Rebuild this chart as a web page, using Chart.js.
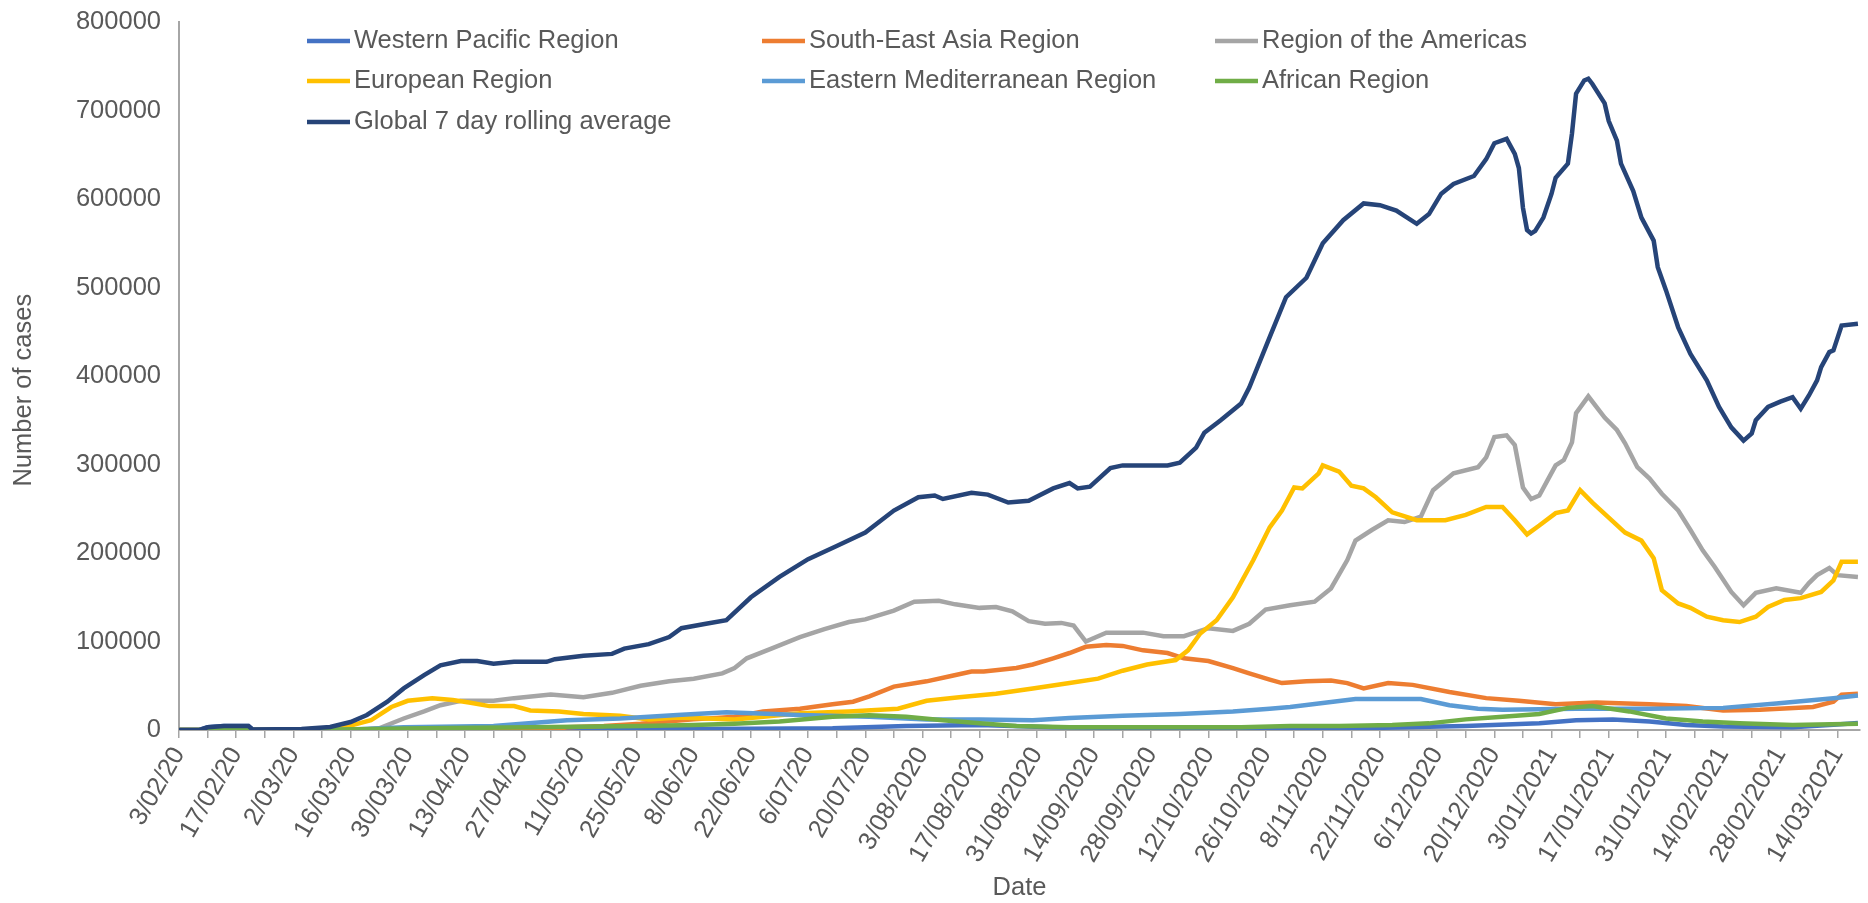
<!DOCTYPE html>
<html>
<head>
<meta charset="utf-8">
<script src="https://cdn.jsdelivr.net/npm/chart.js@4.4.1/dist/chart.umd.min.js"></script>
<style>
  html, body { margin: 0; padding: 0; background: #fff; }
  canvas { display: block; }
</style>
</head>
<body>
<canvas id="casesChart" width="1868" height="903"></canvas>
<script>
// Dias contados a partir de 3/02/2020, valores = casos diarios (media de 7 dias)
const tickLabels = ["3/02/20", "17/02/20", "2/03/20", "16/03/20", "30/03/20", "13/04/20", "27/04/20",
  "11/05/20", "25/05/20", "8/06/20", "22/06/20", "6/07/20", "20/07/20", "3/08/2020", "17/08/2020",
  "31/08/2020", "14/09/2020", "28/09/2020", "12/10/2020", "26/10/2020", "8/11/2020", "22/11/2020",
  "6/12/2020", "20/12/2020", "3/01/2021", "17/01/2021", "31/01/2021", "14/02/2021", "28/02/2021", "14/03/2021"];

const seriesNames = ["Western Pacific Region", "South-East Asia Region", "Region of the Americas",
  "European Region", "Eastern Mediterranean Region", "African Region", "Global 7 day rolling average"];

const seriesColors = ["#4472C4", "#ED7D31", "#A5A5A5", "#FFC000", "#5B9BD5", "#70AD47", "#264478"];

// [dia, casos]
const westernPacific = [[0,0],[5,0],[7,3000],[11,4500],[17,4500],[18,500],[30,500],[100,500],[140,1500],
  [160,2000],[178,4500],[196,5600],[214,3000],[240,2000],[270,1000],[290,2000],[306,3800],[315,4500],
  [333,7500],[342,11000],[351,12000],[360,9500],[369,5600],[378,4000],[395,3000],[405,6000],[411,8000]];

const southEastAsia = [[0,0],[90,0],[95,3000],[104,4500],[113,7000],[126,12000],[136,15000],[143,21000],
  [152,24000],[160,29000],[165,32000],[169,38000],[175,49000],[183,55000],[189,61000],[194,66000],
  [197,66000],[205,70000],[209,74000],[214,81000],[218,87000],[222,94000],[227,96000],[231,95000],
  [236,90000],[242,87000],[246,81000],[252,78000],[258,70000],[262,64000],[267,57000],[270,53000],
  [276,55000],[282,56000],[286,53000],[290,47000],[296,53000],[302,51000],[311,43000],[320,36000],
  [328,33000],[337,29000],[347,31000],[360,29000],[369,27000],[378,22000],[387,23000],[400,26000],
  [405,32000],[407,40000],[411,41000]];

const americas = [[0,0],[44,0],[49,2000],[55,13000],[60,21000],[64,28000],[69,33000],[77,33000],
  [82,36000],[91,40000],[99,37000],[106,42000],[113,50000],[120,55000],[126,58000],[133,64000],
  [136,70000],[139,81000],[145,92000],[152,105000],[158,114000],[164,122000],[168,125000],[175,135000],
  [180,145000],[186,146000],[190,142000],[196,138000],[200,139000],[204,134000],[208,123000],
  [212,120000],[216,121000],[219,118000],[222,100000],[227,110000],[236,110000],[241,106000],
  [246,106000],[252,115000],[258,112000],[262,120000],[266,136000],[272,141000],[278,145000],
  [282,160000],[286,192000],[288,214000],[292,226000],[296,237000],[300,235000],[304,241000],
  [307,271000],[312,290000],[318,297000],[320,308000],[322,331000],[325,333000],[327,322000],
  [329,274000],[331,261000],[333,265000],[335,282000],[337,299000],[339,305000],[341,325000],
  [342,358000],[345,377000],[349,353000],[352,339000],[354,324000],[357,297000],[360,284000],
  [363,267000],[367,248000],[370,226000],[373,203000],[376,184000],[380,156000],[383,141000],
  [386,155000],[391,160000],[397,155000],[399,166000],[401,175000],[404,183000],[406,175000],[411,173000]];

const european = [[0,0],[28,0],[40,3000],[42,5000],[47,11000],[52,26000],[56,33000],[62,36000],
  [67,34000],[71,31000],[76,27000],[82,27000],[86,22000],[93,21000],[99,18000],[108,16000],
  [115,12000],[122,14000],[136,12000],[152,19000],[164,21000],[176,24000],[183,33000],[191,37000],
  [200,41000],[209,47000],[218,53000],[225,58000],[231,67000],[237,74000],[244,79000],[247,90000],
  [250,109000],[254,124000],[258,150000],[263,192000],[267,229000],[270,248000],[273,274000],
  [275,273000],[279,290000],[280,299000],[284,292000],[287,276000],[290,273000],[293,263000],
  [297,246000],[303,237000],[310,237000],[315,243000],[320,252000],[324,252000],[327,237000],
  [330,221000],[333,231000],[337,245000],[340,248000],[343,271000],[346,257000],[350,240000],
  [354,223000],[358,214000],[361,194000],[363,158000],[367,143000],[370,138000],[374,128000],
  [378,124000],[382,122000],[386,128000],[389,139000],[393,147000],[397,149000],[402,156000],
  [405,169000],[407,190000],[411,190000]];

const easternMed = [[0,0],[40,0],[55,3000],[77,4500],[95,11000],[108,13000],[122,17000],[134,20000],
  [152,17000],[169,15000],[183,12000],[196,12000],[209,11000],[218,13500],[231,16000],[245,18000],
  [258,21000],[267,24000],[272,26000],[279,30000],[288,35000],[304,35000],[311,28000],[318,24000],
  [324,23000],[342,24000],[360,24000],[378,25000],[391,30000],[405,36000],[411,39000]];

const african = [[0,0],[30,0],[60,2000],[86,3000],[113,4500],[126,5600],[136,7000],[147,9500],
  [160,15000],[169,16700],[178,15000],[187,11000],[196,7500],[205,4500],[218,3000],[260,3000],
  [272,4500],[284,4500],[297,5600],[306,7500],[315,12000],[324,15000],[333,18000],[340,25000],
  [346,27000],[355,21000],[364,13000],[373,9500],[382,7500],[395,5600],[411,7000]];

const globalAvg = [[0,0],[5,0],[7,3000],[11,4500],[17,4500],[18,500],[30,1000],[37,3500],[42,9000],
  [46,17000],[51,32000],[55,47000],[60,62000],[64,73000],[69,78000],[73,78000],[77,75000],[82,77000],
  [90,77000],[92,80000],[99,84000],[106,86000],[109,92000],[115,97000],[120,105000],[123,115000],
  [129,120000],[134,124000],[140,150000],[147,173000],[154,193000],[161,208000],[168,223000],
  [175,248000],[181,263000],[185,265000],[187,261000],[194,268000],[198,266000],[203,257000],
  [208,259000],[214,273000],[218,279000],[220,273000],[223,275000],[228,296000],[231,299000],
  [242,299000],[245,302000],[249,319000],[251,336000],[255,350000],[260,369000],[262,387000],
  [267,444000],[271,489000],[276,511000],[280,550000],[285,576000],[290,595000],[294,593000],
  [298,587000],[303,572000],[306,583000],[309,606000],[312,617000],[317,626000],[320,645000],
  [322,663000],[325,668000],[327,651000],[328,635000],[329,590000],[330,565000],[331,561000],
  [332,564000],[334,579000],[336,606000],[337,624000],[340,640000],[341,674000],[342,719000],
  [344,734000],[345,736000],[346,730000],[349,708000],[350,688000],[352,666000],[353,640000],
  [356,609000],[358,579000],[361,553000],[362,523000],[364,497000],[367,455000],[370,425000],
  [374,395000],[377,365000],[380,342000],[383,327000],[385,335000],[386,350000],[389,365000],
  [392,371000],[395,376000],[397,363000],[399,378000],[401,395000],[402,410000],[404,427000],
  [405,429000],[407,457000],[411,459000]];

const seriesData = [westernPacific, southEastAsia, americas, european, easternMed, african, globalAvg];

const textColor = "#595959";
const axisColor = "#a6a6a6";
const fontFamily = "'Liberation Sans', Arial, sans-serif";
const fontSize = 25.5;

// Legenda em 3 colunas como no Excel
const legendCols = [307, 762, 1215];
const legendRows = [41, 81, 122];

const gridLegend = {
    id: "gridLegend",
    afterDraw(chart) {
        const ctx = chart.ctx;
        ctx.save();
        ctx.font = fontSize + "px " + fontFamily;
        ctx.textBaseline = "middle";
        chart.data.datasets.forEach((ds, i) => {
            const x = legendCols[i % 3];
            const y = legendRows[Math.floor(i / 3)];
            ctx.strokeStyle = ds.borderColor;
            ctx.lineWidth = 4.5;
            ctx.beginPath();
            ctx.moveTo(x, y);
            ctx.lineTo(x + 43, y);
            ctx.stroke();
            ctx.fillStyle = textColor;
            ctx.fillText(ds.label, x + 47, y);
        });
        ctx.restore();
    }
};

function createChart() {
    const ctx = document.getElementById("casesChart").getContext("2d");

    const datasets = seriesNames.map((name, i) => ({
        label: name,
        data: seriesData[i].map(p => ({ x: p[0], y: p[1] })),
        borderColor: seriesColors[i],
        backgroundColor: seriesColors[i],
        borderWidth: 4.5,
        pointRadius: 0,
        tension: 0,
        fill: false,
        order: seriesNames.length - i
    }));

    new Chart(ctx, {
        type: "line",
        data: { datasets },
        options: {
            responsive: false,
            animation: false,
            devicePixelRatio: 1,
            layout: { padding: { top: 22, right: 0, bottom: 0, left: 0 } },
            plugins: {
                legend: { display: false },
                tooltip: { enabled: false }
            },
            scales: {
                x: {
                    type: "linear",
                    min: 0,
                    max: 411.5,
                    afterBuildTicks: scale => {
                        const ticks = [];
                        for (let d = 0; d <= 411; d += 7) ticks.push({ value: d });
                        scale.ticks = ticks;
                    },
                    afterFit: scale => { scale.height = 173; },
                    ticks: {
                        autoSkip: false,
                        minRotation: 60,
                        maxRotation: 60,
                        padding: 4,
                        color: textColor,
                        font: { family: fontFamily, size: fontSize },
                        callback: v => (v % 14 === 0 ? tickLabels[v / 14] : "")
                    },
                    grid: {
                        display: true,
                        drawOnChartArea: false,
                        drawTicks: true,
                        tickLength: 8,
                        color: axisColor,
                        lineWidth: 1.5
                    },
                    border: { display: true, color: axisColor, width: 2 },
                    title: {
                        display: true,
                        text: "Date",
                        color: textColor,
                        font: { family: fontFamily, size: fontSize },
                        padding: { top: 0, bottom: 0 }
                    }
                },
                y: {
                    min: 0,
                    max: 800000,
                    afterFit: scale => { scale.width = 179; },
                    ticks: {
                        stepSize: 100000,
                        padding: 2,
                        color: textColor,
                        font: { family: fontFamily, size: fontSize },
                        callback: v => String(v)
                    },
                    // marcas invisiveis: so servem para afastar os rotulos do eixo
                    grid: { display: false, drawTicks: true, tickLength: 16 },
                    border: { display: true, color: axisColor, width: 2 },
                    title: {
                        display: true,
                        // espacos no fim descem o titulo um pouco, como no original
                        text: "Number of cases    ",
                        color: textColor,
                        font: { family: fontFamily, size: fontSize },
                        padding: { top: 9, bottom: 0 }
                    }
                }
            }
        },
        plugins: [gridLegend]
    });
}

createChart();
</script>
</body>
</html>
